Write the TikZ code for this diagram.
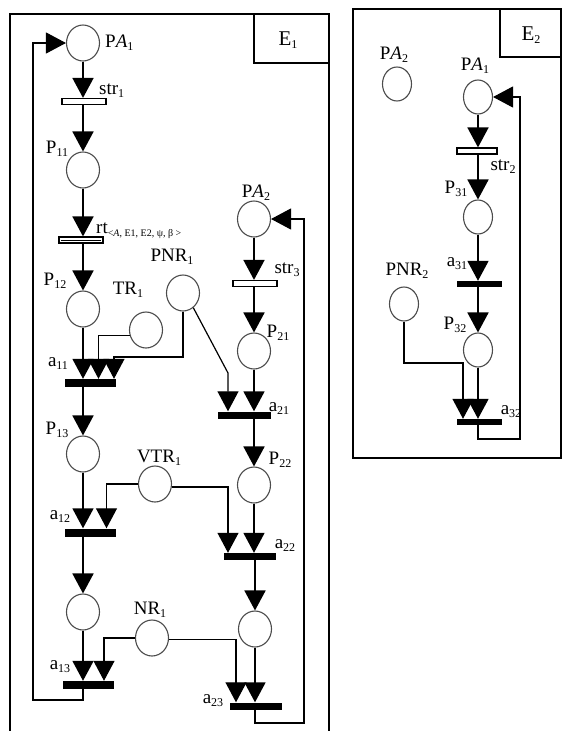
\documentclass[tikz,border=0pt]{standalone}
\usepackage{fontspec}
\setmainfont{Liberation Serif}
\usetikzlibrary{arrows.meta,shapes.geometric,calc}
\newcommand\lo[1]{\raisebox{-0.35ex}{\fontsize{12}{12}\selectfont #1}}
\newcommand\lbf{\fontsize{19}{19}\selectfont}
\begin{document}
\begin{tikzpicture}[x=1pt,y=-1pt,
 pl/.style={ellipse, draw=black!70, line width=1.1pt, minimum width=33pt, minimum height=36pt, inner sep=0pt},
 plb/.style={pl, minimum width=29pt, minimum height=34pt},
 lb/.style={font=\lbf, inner sep=0pt},
 bbar/.style={rectangle, fill=black, minimum width=51pt, minimum height=8pt, inner sep=0pt},
 wbar/.style={rectangle, draw, fill=white, line width=1.2pt, minimum width=44pt, minimum height=6pt, inner sep=0pt},
 arr/.style={-{Triangle[width=21pt,length=20pt]}, line width=1.8pt},
 sarr/.style={arr, line width=1.2pt},
 frm/.style={line width=1.4pt}]
\useasboundingbox (0,0) rectangle (562,731);

% ---------------- E1 frame
\draw[frm] (10,731) -- (10,14) -- (329,14) -- (329,731);
\draw[frm] (254,14) -- (254,63) -- (329,63);
\node[lb, font=\fontsize{21}{21}\selectfont] (e1) at (288,40) {E\lo{1}};

% ---------------- E1 left column
\node[pl] (pa1) at (83,43) {};
\node[lb, anchor=west] (lpa1) at (105,43) {P\textit{A}\lo{1}};
\node[wbar] (str1) at (84,101.5) {};
\node[lb, anchor=west] (lstr1) at (99,91) {str\lo{1}};
\node[pl] (p11) at (83,170) {};
\node[lb] (lp11) at (57,149) {P\lo{11}};
\node[wbar] (rt) at (81,240) {};
\draw[line width=0.8pt] ($(rt.west)+(3,0)$) -- ($(rt.east)+(-3,0)$);
\node[lb, anchor=base west] (lrt) at (96,233) {rt\raisebox{-0.4ex}{\fontsize{10}{10}\selectfont <\textit{A}, E1, E2, ψ, β >}};
\node[pl] (p12) at (83,309) {};
\node[lb] (lp12) at (55,281) {P\lo{12}};
\node[pl] (tr1) at (146,330) {};
\node[lb] (ltr1) at (128,290) {TR\lo{1}};
\node[pl] (pnr1) at (183,293) {};
\node[lb] (lpnr1) at (172,257) {PNR\lo{1}};
\node[bbar] (a11) at (90.5,383) {};
\node[lb] (la11) at (58,364) {a\lo{11}};
\node[pl] (p13) at (83,454) {};
\node[lb] (lp13) at (57,430) {P\lo{13}};
\node[pl] (vtr1) at (155,484) {};
\node[lb] (lvtr1) at (159,458) {VTR\lo{1}};
\node[bbar] (a12) at (90.5,532.5) {};
\node[lb] (la12) at (60,517) {a\lo{12}};
\node[pl] (p14) at (83,612) {};
\node[pl] (nr1) at (152,638) {};
\node[lb] (lnr1) at (150,610) {NR\lo{1}};
\node[bbar] (a13) at (88,685) {};
\node[lb] (la13) at (60,667) {a\lo{13}};

% ---------------- E1 right column
\node[pl] (pa2) at (254,219) {};
\node[lb] (lpa2) at (256,193) {P\textit{A}\lo{2}};
\node[wbar] (str3) at (255,283.5) {};
\node[lb] (lstr3) at (287,270) {str\lo{3}};
\node[pl] (p21) at (254,351) {};
\node[lb] (lp21) at (278,333) {P\lo{21}};
\node[bbar, minimum width=53pt, minimum height=7pt] (a21) at (244.5,415) {};
\node[lb] (la21) at (279,409) {a\lo{21}};
\node[pl] (p22) at (254,485) {};
\node[lb] (lp22) at (280,460) {P\lo{22}};
\node[bbar, minimum width=52pt, minimum height=7pt] (a22) at (250,556.5) {};
\node[lb] (la22) at (285,546) {a\lo{22}};
\node[pl] (p23) at (255,629) {};
\node[bbar, minimum width=52pt, minimum height=7pt] (a23) at (256,706) {};
\node[lb] (la23) at (213,701) {a\lo{23}};

% ---------------- E1 arcs
\draw[arr] (pa1.south) -- (pa1.south |- str1.north);
\draw[arr] (str1.south -| p11.north) -- (p11.north);
\draw[arr] (p11.south) -- (p11.south |- rt.north);
\draw[arr] (rt.south -| p12.north) -- (p12.north);
\draw[arr] (p12.south) -- (p12.south |- a11.north);
\draw[sarr] (tr1.200) -| ([xshift=8pt]a11.north);
\coordinate (k1) at (114,357);
\draw[sarr] (pnr1.south) |- (k1) -- (k1 |- a11.north);
\draw[arr] (a11.south -| p13.north) -- (p13.north);
\draw[arr] (p13.south) -- (p13.south |- a12.north);
\draw[sarr] (vtr1.west) -| ([xshift=16pt]a12.north);
\draw[arr] (a12.south -| p14.north) -- (p14.north);
\draw[arr] (p14.south) -- (p14.south |- a13.north);
\draw[sarr] (nr1.west) -| ([xshift=16pt]a13.north);
\coordinate (f1) at (33,700);
\draw[sarr] (a13.south -| p14.south) |- (f1) |- (pa1.west);

\draw[arr] (pa2.south) -- (pa2.south |- str3.north);
\draw[arr] (str3.south -| p21.north) -- (p21.north);
\draw[arr] (p21.south) -- (p21.south |- a21.north);
\coordinate (k2) at (228,373);
\draw[sarr] (pnr1.-55) -- (k2) -- (k2 |- a21.north);
\draw[arr] (a21.south -| p22.north) -- (p22.north);
\draw[sarr] (vtr1.-10) -| ([xshift=-22pt]a22.north);
\draw[arr] (p22.south) -- (p22.south |- a22.north);
\draw[arr] (a22.south -| p23.north) -- (p23.north);
\draw[sarr] (nr1.-5) -| ([xshift=-20pt]a23.north);
\draw[arr] (p23.south) -- (p23.south |- a23.north);
\coordinate (f2) at (304,723);
\draw[sarr] (a23.south -| p23.south) |- (f2) |- (pa2.east);

% ---------------- E2 frame
\draw[frm] (353,9) rectangle (561,458);
\draw[frm] (500,9) -- (500,57) -- (561,57);
\node[lb, font=\fontsize{21}{21}\selectfont] (e2) at (531,35) {E\lo{2}};

% ---------------- E2 nodes
\node[plb] (pa2b) at (397,84) {};
\node[lb] (lpa2b) at (394,55) {P\textit{A}\lo{2}};
\node[plb] (pa1b) at (478,97) {};
\node[lb] (lpa1b) at (475,66) {P\textit{A}\lo{1}};
\node[wbar, minimum width=40pt] (str2) at (477,151) {};
\node[lb] (lstr2) at (503,167) {str\lo{2}};
\node[plb] (p31) at (478,217) {};
\node[lb] (lp31) at (456,189) {P\lo{31}};
\node[bbar, minimum width=45pt, minimum height=6pt] (a31) at (479.5,284) {};
\node[lb] (la31) at (457,264) {a\lo{31}};
\node[plb] (p32) at (478,350) {};
\node[lb] (lp32) at (455,325) {P\lo{32}};
\node[plb] (pnr2) at (404,304) {};
\node[lb] (lpnr2) at (407,271) {PNR\lo{2}};
\node[bbar, minimum width=45pt, minimum height=6pt] (a32) at (479.5,422) {};
\node[lb] (la32) at (511,412) {a\lo{32}};

% ---------------- E2 arcs
\draw[arr] (pa1b.south) -- (pa1b.south |- str2.north);
\draw[arr] (str2.south -| p31.north) -- (p31.north);
\draw[arr] (p31.south) -- (p31.south |- a31.north);
\draw[arr] (a31.south -| p32.north) -- (p32.north);
\draw[arr] (p32.south) -- (p32.south |- a32.north);
\coordinate (k3) at (463,363);
\draw[sarr] (pnr2.south) |- (k3) -- (k3 |- a32.north);
\coordinate (f3) at (520,439);
\draw[sarr] (a32.south -| p32.south) |- (f3) |- (pa1b.east);
\end{tikzpicture}
\end{document}
